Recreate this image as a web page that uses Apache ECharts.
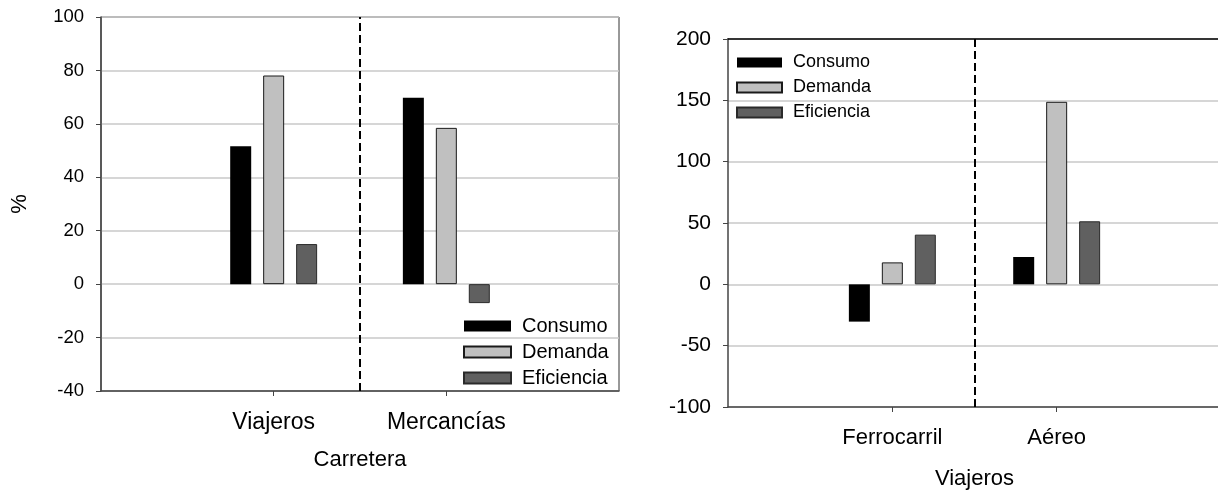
<!DOCTYPE html>
<html>
<head>
<meta charset="utf-8">
<script src="https://cdn.jsdelivr.net/npm/echarts@6/dist/echarts.min.js"></script>
<style>
  html, body { margin: 0; padding: 0; background: #fff; }
  #chart { width: 1218px; height: 491px; }
</style>
</head>
<body>
<div id="chart"></div>
<script>
  // Carretera (left)
  const cats1 = ["", "Viajeros", "Mercancías", ""];
  const consumo1 = [null, 51.6, 69.8, null];
  const demanda1 = [null, 78.1, 58.5, null];
  const eficiencia1 = [null, 15.0, -7.1, null];
  const yRange1 = [-40, 100, 20];

  // Viajeros (right)
  const cats2 = ["", "Ferrocarril", "Aéreo", ""];
  const consumo2 = [null, -30.4, 22.3, null];
  const demanda2 = [null, 17.9, 148.8, null];
  const eficiencia2 = [null, 40.5, 51.4, null];
  const yRange2 = [-100, 200, 50];

  const seriesNames = ["Consumo", "Demanda", "Eficiencia"];
  const dividers = [1.5];

  const font = "Liberation Sans";
  const fills = ["#000000", "#c0c0c0", "#606060"];
  const borders = ["#000000", "#1a1a1a", "#2a2a2a"];

  const chart = echarts.init(document.getElementById("chart"));

  const catAxis = (cats, grid, name, labelSize, nameGap) => ({
    type: "category",
    gridIndex: grid,
    data: cats,
    boundaryGap: false,
    name: name,
    nameLocation: "middle",
    nameGap: nameGap,
    nameTextStyle: { fontFamily: font, fontSize: 22, color: "#000" },
    axisLine: { onZero: false, lineStyle: { color: "#444", width: 1.5 } },
    axisTick: {
      length: 5,
      interval: (i) => cats[i] !== "",
      lineStyle: { color: "#444" }
    },
    axisLabel: {
      interval: 0,
      margin: 20,
      fontFamily: font,
      fontSize: labelSize,
      color: "#000"
    },
    splitLine: { show: false }
  });

  // value axis used for the dashed divider; on the right panel its line is the top frame
  const hiddenAxis = (grid, n, topLine) => ({
    type: "value",
    gridIndex: grid,
    min: 0,
    max: n - 1,
    position: "top",
    show: topLine,
    axisLine: { show: topLine, onZero: false, lineStyle: { color: "#000", width: 1.5 } },
    axisTick: { show: false },
    axisLabel: { show: false },
    splitLine: { show: false }
  });

  const valAxis = (range, grid, labelSize, nameGap) => ({
    type: "value",
    gridIndex: grid,
    min: range[0],
    max: range[1],
    interval: range[2],
    name: "%",
    nameLocation: "middle",
    nameGap: nameGap,
    nameRotate: 90,
    nameTextStyle: { fontFamily: font, fontSize: 22, color: "#000" },
    axisLine: { show: true, onZero: false, lineStyle: { color: "#444", width: 1.5 } },
    axisTick: { show: true, length: 5, lineStyle: { color: "#444" } },
    axisLabel: { margin: 17, fontFamily: font, fontSize: labelSize, color: "#000" },
    splitLine: { lineStyle: { color: "#c8c8c8", width: 1.5 } }
  });

  const barSeries = (values, xi, yi) =>
    values.map((data, k) => ({
      name: seriesNames[k],
      type: "bar",
      xAxisIndex: xi,
      yAxisIndex: yi,
      data: data,
      barWidth: 21,
      barGap: "57%",
      itemStyle: {
        color: fills[k],
        borderColor: borders[k],
        borderWidth: k === 0 ? 0 : 1
      }
    }));

  const dividerSeries = (xi, yi) => ({
    type: "line",
    xAxisIndex: xi,
    yAxisIndex: yi,
    data: dividers.map(v => [v, 0]),
    showSymbol: false,
    lineStyle: { opacity: 0 },
    silent: true,
    markLine: {
      silent: true,
      symbol: ["none", "none"],
      label: { show: false },
      lineStyle: { color: "#000", type: [8, 4], width: 2 },
      data: dividers.map(v => ({ xAxis: v }))
    }
  });

  const legendBase = (size) => ({
    data: seriesNames,
    orient: "vertical",
    icon: "rect",
    itemGap: 6,
    textStyle: {
      fontFamily: font,
      fontSize: size,
      lineHeight: 19,
      color: "#000",
      padding: [0, 0, 0, 6]
    }
  });

  const option = {
    animation: false,
    grid: [
      { left: 101, top: 17, width: 518, height: 374, outerBoundsMode: "none", show: true, borderColor: "#333", borderWidth: 1 },
      { left: 728, top: 39, width: 493, height: 368, outerBoundsMode: "none", show: false }
    ],
    xAxis: [
      catAxis(cats1, 0, "Carretera", 23, 58),
      hiddenAxis(0, cats1.length, false),
      catAxis(cats2, 1, "Viajeros", 22, 61),
      hiddenAxis(1, cats2.length, true)
    ],
    yAxis: [valAxis(yRange1, 0, 18.5, 70), valAxis(yRange2, 1, 21, 82)],
    legend: [
      Object.assign(legendBase(20), { left: 458, top: 311, itemWidth: 47, itemHeight: 11 }),
      Object.assign(legendBase(18), { left: 731, top: 48, itemWidth: 45, itemHeight: 10 })
    ],
    graphic: [
      // the right panel's axis title is cut off in the original
      { type: "rect", z: 100, shape: { x: 623, y: 150, width: 26, height: 150 }, style: { fill: "#fff" } }
    ],
    series: [
      ...barSeries([consumo1, demanda1, eficiencia1], 0, 0),
      dividerSeries(1, 0),
      ...barSeries([consumo2, demanda2, eficiencia2], 2, 1),
      dividerSeries(3, 1)
    ]
  };

  chart.setOption(option);
</script>
</body>
</html>
